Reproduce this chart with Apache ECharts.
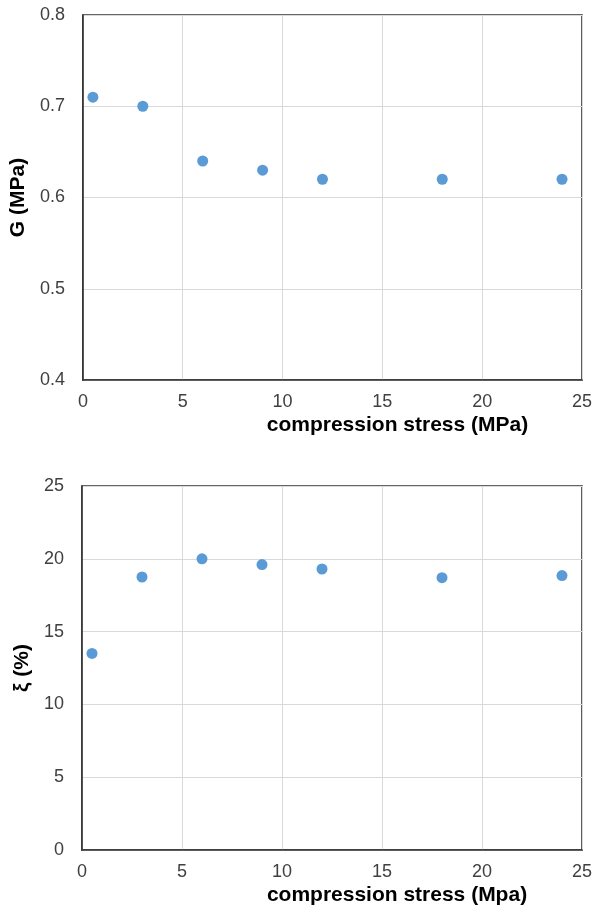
<!DOCTYPE html>
<html>
<head>
<meta charset="utf-8">
<script src="https://cdn.jsdelivr.net/npm/echarts@6/dist/echarts.min.js"></script>
<style>
html,body{margin:0;padding:0;background:#fff;}
#chart{width:608px;height:915px;}
</style>
</head>
<body>
<div id="chart"></div>
<script>
var stress = [0.5, 3, 6, 9, 12, 18, 24];
var shearModulus = [0.71, 0.70, 0.64, 0.63, 0.62, 0.62, 0.62];
var damping = [13.5, 18.75, 20.0, 19.6, 19.3, 18.7, 18.85];
var xTitles = ['compression stress (MPa)', 'compression stress (Mpa)'];
var yTitles = ['G (MPa)', 'ξ (%)'];

var FONT = '"Liberation Sans", Arial, sans-serif';
var AXIS_COLOR = '#333333';
var LABEL_COLOR = '#404040';

function pairs(xs, ys) {
  return xs.map(function (x, i) { return [x, ys[i]]; });
}

function xAxisCfg(gi, title) {
  return {
    gridIndex: gi, type: 'value', min: 0, max: 25, interval: 5,
    name: title, nameLocation: 'middle', nameGap: 35,
    nameTextStyle: { fontFamily: FONT, fontSize: 21, fontWeight: 'bold', color: '#000', padding: [0, 0, 0, 130] },
    axisLine: { show: true, onZero: false, lineStyle: { color: AXIS_COLOR, width: 1.6 } },
    axisTick: { show: false },
    axisLabel: { fontFamily: FONT, fontSize: 18, color: LABEL_COLOR, margin: 13 },
    splitLine: { show: true, lineStyle: { color: '#d9d9d9', width: 1 } }
  };
}
function yAxisCfg(gi, title, min, max, interval, fmt) {
  return {
    gridIndex: gi, type: 'value', min: min, max: max, interval: interval,
    name: title, nameLocation: 'middle', nameGap: 45,
    nameTextStyle: { fontFamily: FONT, fontSize: 21, fontWeight: 'bold', color: '#000' },
    axisLine: { show: true, onZero: false, lineStyle: { color: AXIS_COLOR, width: 1.6 } },
    axisTick: { show: false },
    axisLabel: { fontFamily: FONT, fontSize: 18, color: LABEL_COLOR, margin: 18, formatter: fmt },
    splitLine: { show: true, lineStyle: { color: '#d9d9d9', width: 1 } }
  };
}

var chart = echarts.init(document.getElementById('chart'), null, { renderer: 'canvas' });
chart.setOption({
  animation: false,
  backgroundColor: '#fff',
  grid: [
    { left: 82, top: 15, width: 500, height: 365, show: true, borderColor: AXIS_COLOR, borderWidth: 1.6, backgroundColor: 'transparent' },
    { left: 82, top: 486, width: 500, height: 364, show: true, borderColor: AXIS_COLOR, borderWidth: 1.6, backgroundColor: 'transparent' }
  ],
  xAxis: [xAxisCfg(0, xTitles[0]), xAxisCfg(1, xTitles[1])],
  yAxis: [
    yAxisCfg(0, yTitles[0], 0.4, 0.8, 0.1, function (v) { return v.toFixed(1); }),
    yAxisCfg(1, yTitles[1], 0, 25, 5, function (v) { return String(v); })
  ],
  series: [
    { type: 'scatter', xAxisIndex: 0, yAxisIndex: 0, data: pairs(stress, shearModulus),
      symbol: 'circle', symbolSize: 11, itemStyle: { color: '#5b9bd5', opacity: 1 } },
    { type: 'scatter', xAxisIndex: 1, yAxisIndex: 1, data: pairs(stress, damping),
      symbol: 'circle', symbolSize: 11, itemStyle: { color: '#5b9bd5', opacity: 1 } }
  ]
});
</script>
</body>
</html>
